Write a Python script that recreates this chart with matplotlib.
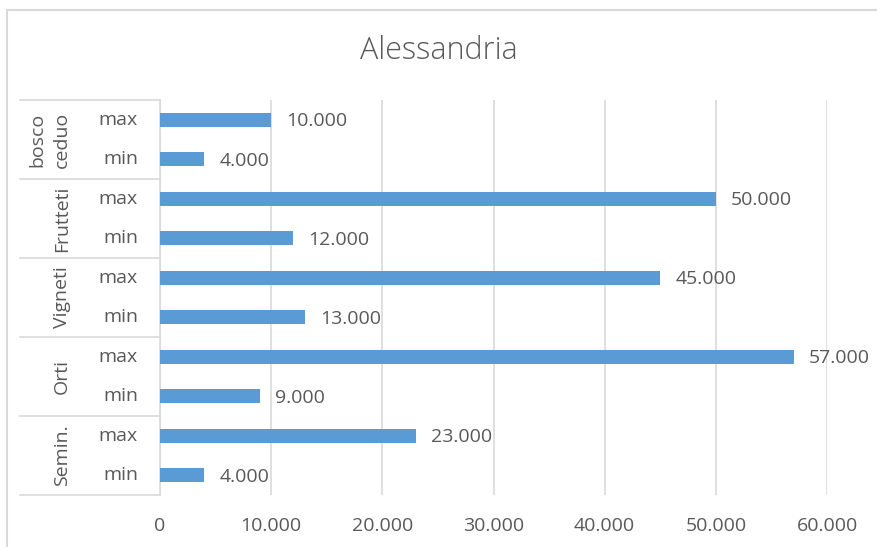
import matplotlib.pyplot as plt
from matplotlib.lines import Line2D
from matplotlib.transforms import blended_transform_factory

plt.rcParams["font.family"] = ["Open Sans", "DejaVu Sans"]

title = "Alessandria"
groups = ["Semin.", "Orti", "Vigneti", "Frutteti", "bosco\nceduo"]
levels = ["min", "max"]
values_min = [4000, 9000, 13000, 12000, 4000]
values_max = [23000, 57000, 45000, 50000, 10000]
xticks = [0, 10000, 20000, 30000, 40000, 50000, 60000]

bar_color = "#5B9BD5"
text_color = "#595959"
grid_color = "#D9D9D9"


def fmt(v):
    # thousands separator with a dot
    return f"{v:,.0f}".replace(",", ".")


fig = plt.figure(figsize=(8.77, 5.47), dpi=100)
ax = fig.add_axes([160 / 877, 1 - 495 / 547, 667 / 877, 395 / 547])

# one bar per (group, level), bottom to top
vals = []
for lo, hi in zip(values_min, values_max):
    vals += [lo, hi]
ypos = list(range(len(vals)))

ax.barh(ypos, vals, height=0.36, color=bar_color, zorder=3)
for y, v in zip(ypos, vals):
    ax.annotate(fmt(v), (v, y), xytext=(11, -1), textcoords="offset points",
                va="center", ha="left", fontsize=14, color=text_color)

ax.set_xlim(0, 60000)
ax.set_ylim(-0.5, len(vals) - 0.5)
ax.set_xticks(xticks)
ax.set_xticklabels([fmt(t) for t in xticks])
ax.tick_params(axis="x", length=0, pad=16, labelsize=14, labelcolor=text_color)
ax.set_yticks([])
ax.grid(axis="x", color=grid_color, linewidth=1.2, zorder=0)
for side in ["top", "right", "bottom"]:
    ax.spines[side].set_visible(False)
ax.spines["left"].set_color(grid_color)
ax.spines["left"].set_linewidth(1.2)

# two-level category axis on the left
trans = blended_transform_factory(ax.transAxes, ax.transData)
x_edge = (20 - 160) / 667
for i, g in enumerate(groups):
    for j, lev in enumerate(levels):
        ax.text(-0.033, 2 * i + j, lev, transform=trans, ha="right",
                va="center", fontsize=14, color=text_color)
    nlines = g.count("\n") + 1
    gx = (62 - 12 * (nlines - 1) - 160) / 667
    ax.text(gx, 2 * i + 0.5, g, transform=trans, ha="center",
            va="center", rotation=90, fontsize=14, color=text_color,
            linespacing=1.45)
for b in range(len(groups) + 1):
    yb = 2 * b - 0.5
    ax.add_line(Line2D([x_edge, 0], [yb, yb], transform=trans,
                       color=grid_color, linewidth=1.2, clip_on=False))

fig.text(0.5, 1 - 51 / 547, title, ha="center", va="center",
         fontsize=22, color=text_color, fontweight="light")

# chart frame (top and left edges)
fig.add_artist(Line2D([7 / 877, 1], [1 - 10 / 547, 1 - 10 / 547],
                      transform=fig.transFigure, color=grid_color, linewidth=1.5))
fig.add_artist(Line2D([7 / 877, 7 / 877], [0, 1 - 10 / 547],
                      transform=fig.transFigure, color=grid_color, linewidth=1.5))

fig.savefig("out.png", dpi=100)
